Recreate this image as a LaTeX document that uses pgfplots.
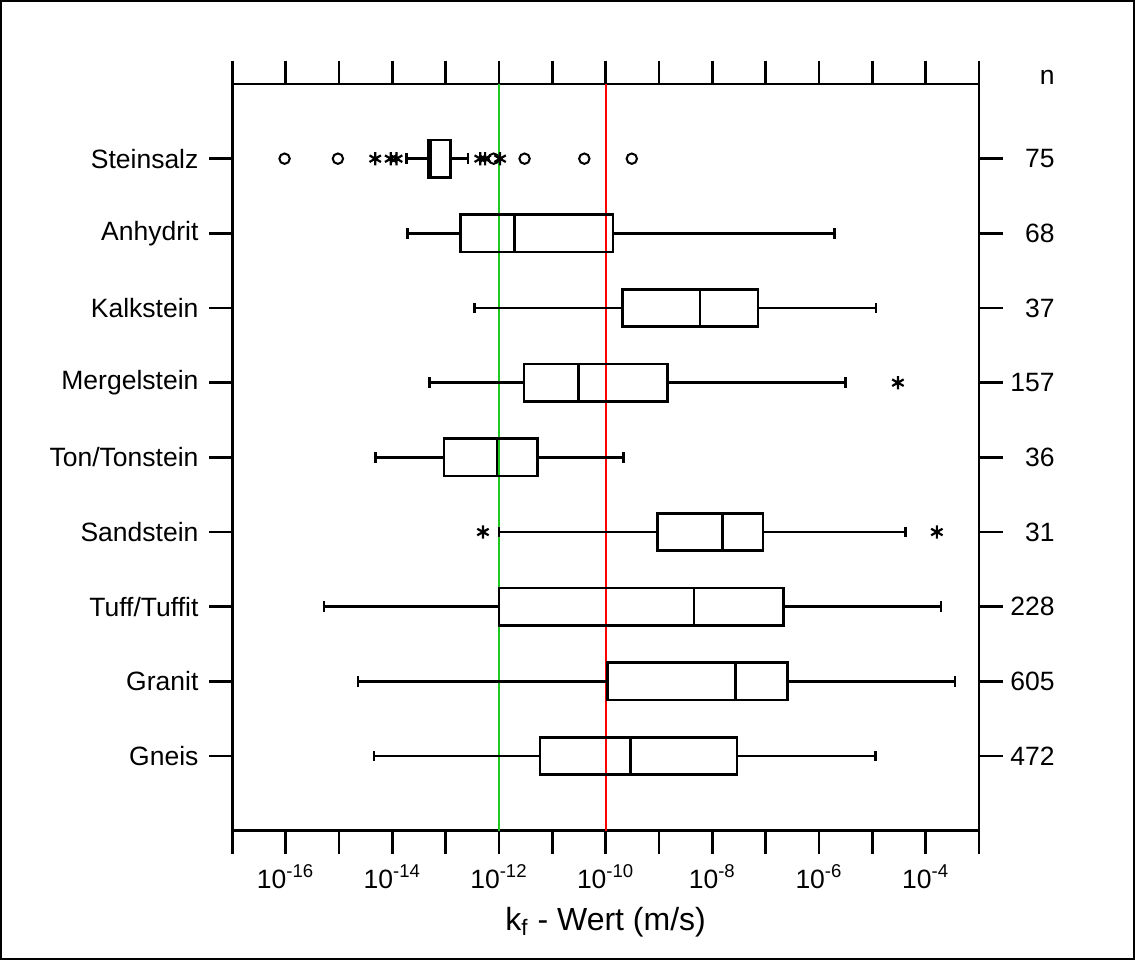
\documentclass[border=0pt]{standalone}
\usepackage{pgfplots}
\pgfplotsset{compat=1.18}
\usepgfplotslibrary{statistics}
\usepackage{fontspec}
\setmainfont{Liberation Sans}
\definecolor{refgreen}{RGB}{30,200,30}
\definecolor{refred}{RGB}{255,0,0}

\pgfplotsset{
  mybox/.style={black, solid, line width=1.3pt, mark=none},
  common/.style={
    at={(116.15pt,64.65pt)}, anchor=south west,
    scale only axis, width=373.35pt, height=373.35pt,
    xmin=-17, xmax=-3, ymin=0, ymax=10, y dir=reverse,
    font=\fontsize{13.25}{16}\selectfont,
  },
}

\begin{document}
\begin{tikzpicture}
\path[use as bounding box] (0,0) rectangle (567.5pt,480pt);
\draw[line width=1pt] (0.5pt,0.5pt) rectangle (567pt,479.5pt);

\begin{axis}[common,
  axis line style={line width=1.4pt},
  tick align=outside, major tick length=11.75pt,
  tick style={line width=1.4pt, black},
  xtick={-17,...,-3},
  xticklabels={,10\textsuperscript{-16},,10\textsuperscript{-14},,10\textsuperscript{-12},,10\textsuperscript{-10},,10\textsuperscript{-8},,10\textsuperscript{-6},,10\textsuperscript{-4},},
  ytick={1,...,9},
  yticklabels={Steinsalz,Anhydrit,Kalkstein,Mergelstein,Ton/Tonstein,Sandstein,Tuff/Tuffit,Granit,Gneis},
  xticklabel style={anchor=base, inner sep=0pt, yshift=-16.9pt},
  yticklabel style={anchor=east, inner sep=0pt, xshift=-5pt},
  xlabel={k\textsubscript{f} - Wert (m/s)},
  xlabel style={at={(axis description cs:0.5,0)}, anchor=base, inner sep=0pt, yshift=-50pt, font=\fontsize{16}{19}\selectfont},
  boxplot/draw direction=x,
  boxplot/box extend=0.5,
  boxplot/whisker extend=0.14,
  clip=false,
]
% reference lines (10^-10 and 10^-12 m/s)
\addplot[draw=refred, line width=0.9pt, mark=none] table[x=x, y=y] {
x y
-10.001 0
-10.001 10
};
\addplot[draw=refgreen, line width=0.8pt, mark=none] coordinates {(-12,0) (-12,10)};

% box plots (log10 of kf in m/s)
\addplot[mybox, boxplot prepared={draw position=1, lower whisker=-13.73, lower quartile=-13.32, median=-13.28, upper quartile=-12.91, upper whisker=-12.58}] coordinates {};
\addplot[mybox, boxplot prepared={draw position=2, lower whisker=-13.72, lower quartile=-12.72, median=-11.71, upper quartile=-9.86, upper whisker=-5.71}] coordinates {};
\addplot[mybox, boxplot prepared={draw position=3, lower whisker=-12.46, lower quartile=-9.68, median=-8.23, upper quartile=-7.14, upper whisker=-4.93}] coordinates {};
\addplot[mybox, boxplot prepared={draw position=4, lower whisker=-13.30, lower quartile=-11.53, median=-10.51, upper quartile=-8.84, upper whisker=-5.50}] coordinates {};
\addplot[mybox, boxplot prepared={draw position=5, lower whisker=-14.32, lower quartile=-13.03, median=-12.04, upper quartile=-11.28, upper whisker=-9.67}] coordinates {};
\addplot[mybox, boxplot prepared={draw position=6, lower whisker=-12.0, lower quartile=-9.03, median=-7.81, upper quartile=-7.05, upper whisker=-4.38}] coordinates {};
\addplot[mybox, boxplot prepared={draw position=7, lower whisker=-15.28, lower quartile=-12.0, median=-8.34, upper quartile=-6.66, upper whisker=-3.71}] coordinates {};
\addplot[mybox, boxplot prepared={draw position=8, lower whisker=-14.64, lower quartile=-9.97, median=-7.57, upper quartile=-6.59, upper whisker=-3.45}] coordinates {};
\addplot[mybox, boxplot prepared={draw position=9, lower whisker=-14.34, lower quartile=-11.23, median=-9.53, upper quartile=-7.54, upper whisker=-4.94}] coordinates {};

% outliers (circles)
\addplot[only marks, black, mark=o, mark size=2.6pt, line width=1pt] coordinates {
  (-16.02,1) (-15.02,1) (-12.10,1) (-11.52,1) (-10.40,1) (-9.51,1)
};
% extreme values (stars)
\addplot[only marks, black, mark=asterisk, mark size=3.3pt, line width=1.1pt] coordinates {
  (-14.32,1) (-14.03,1) (-13.92,1) (-12.35,1) (-12.26,1) (-11.98,1)
  (-4.52,4) (-12.30,6) (-3.79,6)
};

\node[anchor=base east, inner sep=0pt, font=\fontsize{13.25}{16}\selectfont, xshift=38pt, yshift=0pt] at (axis description cs:1,1) {n};
\end{axis}

\begin{axis}[common,
  axis line style={draw=none},
  xtick=\empty,
  major tick length=0pt,
  tick style={draw=none},
  ytick={1,...,9},
  yticklabel pos=right,
  yticklabels={75,68,37,157,36,31,228,605,472},
  yticklabel style={anchor=east, inner sep=0pt, xshift=38pt},
  clip=false,
]
\addplot[draw=none, mark=none] coordinates {(-17,0)};
\end{axis}
\end{tikzpicture}
\end{document}
